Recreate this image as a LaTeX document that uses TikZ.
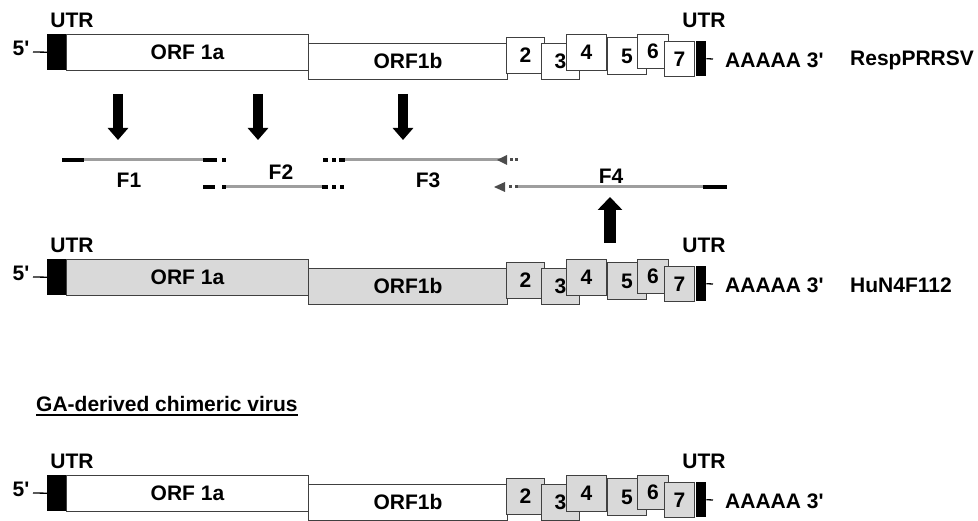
\documentclass[tikz,border=0pt]{standalone}
\usepackage{fontspec}
\setmainfont{Liberation Sans}
\usetikzlibrary{arrows.meta,positioning}
\definecolor{sgfill}{gray}{0.85}
\definecolor{fraggray}{gray}{0.62}
\definecolor{tipgray}{gray}{0.3}
\definecolor{edge}{gray}{0.25}
\tikzset{
  txt/.style={font=\fontsize{21}{25}\selectfont\bfseries, inner sep=0pt},
  orfbox/.style={draw=edge, line width=0.9pt, inner sep=0pt, anchor=north west, font=\fontsize{21}{25}\selectfont\bfseries},
  utrbox/.style={fill=black, inner sep=0pt, anchor=north west},
  tick/.style={line width=1.3pt, black},
  frag/.style={line width=3pt, fraggray},
  fragend/.style={line width=4pt, black},
  fragdot/.style={line width=3pt, tipgray},
  bigarrow/.style={line width=10pt, -{Triangle[width=20pt,length=12pt]}},
  uparrow/.style={line width=12pt, -{Triangle[width=24pt,length=13pt]}}
}
% one genome line: prefix, vertical shift, ORF1 fill, subgenomic fill
\newcommand{\genomerow}[4]{%
  \begin{scope}[yshift=-#2pt]
    \node[txt] (#1utrlbl) at (72,20) {UTR};
    \node[txt] (#1five) at (21,48) {5\textquotesingle};
    \node[utrbox, minimum width=19pt, minimum height=36pt] (#1utrL) at (47,34) {};
    \node[orfbox, fill=#3, minimum width=242pt, minimum height=36pt] (#1orfa) at (66,34) {ORF 1a};
    \node[orfbox, fill=#3, minimum width=199pt, minimum height=36pt] (#1orfb) at (308,43) {ORF1b};
    \node[orfbox, fill=#4, minimum width=38pt, minimum height=36pt] (#1sgii) at (506,37) {2};
    \node[orfbox, fill=#4, minimum width=38pt, minimum height=36pt] (#1sgiii) at (541,43) {3};
    \node[orfbox, fill=#4, minimum width=40pt, minimum height=36pt] (#1sgiv) at (566,34) {4};
    \node[orfbox, fill=#4, minimum width=39pt, minimum height=37pt] (#1sgv) at (607,37) {5};
    \node[orfbox, fill=#4, minimum width=31pt, minimum height=34pt] (#1sgvi) at (637,34) {6};
    \node[orfbox, fill=#4, minimum width=30pt, minimum height=35pt] (#1sgvii) at (664,41) {7};
    \node[utrbox, minimum width=10pt, minimum height=35pt] (#1utrR) at (696,41) {};
    \node[txt] (#1utrlblR) at (704,20) {UTR};
    \coordinate (#1fiveend) at (33,52);
    \coordinate (#1tailend) at (713,59);
    \draw[tick] (#1fiveend) -- (#1utrL.west);
    \draw[tick] (#1utrR.east) -- (#1tailend);
    \node[txt, anchor=west] (#1polya) at (725,60) {AAAAA 3\textquotesingle};
  \end{scope}}

\begin{document}
\begin{tikzpicture}[x=1pt, y=-1pt]
  \useasboundingbox (0,0) rectangle (978,521);

  % parental genomes
  \genomerow{a}{0}{white}{white}
  \node[txt, anchor=west] (aname) at (850,60) {RespPRRSV};
  \genomerow{b}{225}{sgfill}{sgfill}
  \node[txt, anchor=west] (bname) at (850,285) {HuN4F112};

  % fragments
  \draw[fragend] (62,160) -- (84,160);
  \draw[frag] (84,160) -- (203,160);
  \draw[fragend] (203,160) -- (217,160);
  \draw[fragend] (222,160) -- (226,160);
  \node[txt] (fa) at (129,180) {F1};

  \draw[fragend] (203,187) -- (215,187);
  \draw[fragend] (222,187) -- (226,187);
  \draw[frag] (226,187) -- (322,187);
  \draw[fragend] (322,187) -- (328,187);
  \draw[fragend] (332,187) -- (336,187);
  \draw[fragend] (340,187) -- (344,187);
  \node[txt] (fb) at (281,172) {F2};

  \draw[fragend] (323,160) -- (328,160);
  \draw[fragend] (332,160) -- (336,160);
  \draw[fragend] (339,160) -- (345,160);
  \draw[frag] (345,160) -- (507,160);
  \fill[tipgray] (497,160) -- (507,155) -- (507,165) -- cycle;
  \draw[fragdot] (510,160) -- (513,160);
  \draw[fragdot] (515,160) -- (518,160);
  \node[txt] (fc) at (428,180) {F3};

  \fill[tipgray] (494,187) -- (505,182) -- (505,192) -- cycle;
  \draw[fragdot] (509,187) -- (512,187);
  \draw[fragdot] (515,187) -- (518,187);
  \draw[frag] (518,187) -- (703,187);
  \draw[fragend] (703,187) -- (727,187);
  \node[txt] (fd) at (611,176) {F4};

  % block arrows
  \coordinate (dnatop) at (118,94);
  \coordinate (dnatip) at (118,140);
  \coordinate (dnbtop) at (258,94);
  \coordinate (dnbtip) at (258,140);
  \coordinate (dnctop) at (403,94);
  \coordinate (dnctip) at (403,140);
  \coordinate (upbot) at (610,243);
  \coordinate (uptip) at (610,197);
  \draw[bigarrow] (dnatop) -- (dnatip);
  \draw[bigarrow] (dnbtop) -- (dnbtip);
  \draw[bigarrow] (dnctop) -- (dnctip);
  \draw[uparrow] (upbot) -- (uptip);

  % chimeric genome
  \node[txt, anchor=base west] (title) at (36,412) {GA-derived chimeric virus};
  \draw[line width=1.5pt] ([yshift=-3pt]title.base west) -- ([yshift=-3pt]title.base east);
  \genomerow{c}{441}{white}{sgfill}
\end{tikzpicture}
\end{document}
